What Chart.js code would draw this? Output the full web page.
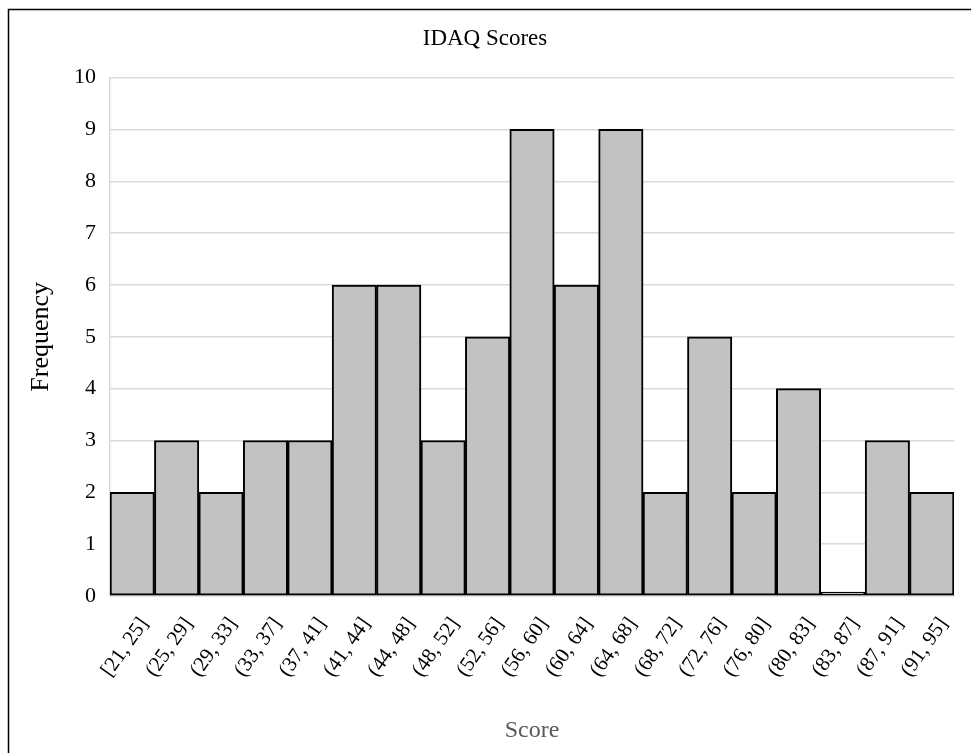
<!DOCTYPE html>
<html>
<head>
<meta charset="utf-8">
<title>IDAQ Scores</title>
<script src="https://cdn.jsdelivr.net/npm/chart.js@4/dist/chart.umd.min.js"></script>
<style>
    html, body { margin: 0; padding: 0; background: #fff; }
    #wrap { position: relative; width: 971px; height: 753px; }
</style>
</head>
<body>
<div id="wrap">
    <canvas id="histo" width="971" height="753"></canvas>
</div>
<script>
'use strict';

// score bins (x axis)
const bins = ['[21, 25]', '(25, 29]', '(29, 33]', '(33, 37]', '(37, 41]', '(41, 44]', '(44, 48]',
    '(48, 52]', '(52, 56]', '(56, 60]', '(60, 64]', '(64, 68]', '(68, 72]', '(72, 76]',
    '(76, 80]', '(80, 83]', '(83, 87]', '(87, 91]', '(91, 95]'];

// frequency per bin
const frequency = [2, 3, 2, 3, 3, 6, 6, 3, 5, 9, 6, 9, 2, 5, 2, 4, 0, 3, 2];

// y ticks 0..10
const yTicks = [0, 1, 2, 3, 4, 5, 6, 7, 8, 9, 10];

const serif = '"Liberation Serif", "Times New Roman", serif';

// frame lines round the picture (left + top only are visible in the original)
const framePlugin = {
    id: 'frame',
    beforeDraw(chart) {
        const c = chart.ctx;
        c.save();
        c.fillStyle = '#fff';
        c.fillRect(0, 0, chart.width, chart.height);
        c.strokeStyle = '#000';
        c.lineWidth = 1.5;
        c.beginPath();
        c.moveTo(8.5, chart.height);
        c.lineTo(8.5, 9.5);
        c.lineTo(chart.width, 9.5);
        c.stroke();
        c.restore();
    }
};

const ctx = document.getElementById('histo');

new Chart(ctx, {
    type: 'bar',
    data: {
        labels: bins,
        datasets: [{
            label: 'Frequency',
            data: frequency,
            backgroundColor: '#c2c2c2',
            borderColor: '#000',
            borderWidth: 2,
            borderSkipped: false,
            minBarLength: 4,
            barPercentage: 1,
            categoryPercentage: 1
        }]
    },
    options: {
        responsive: false,
        animation: false,
        layout: {
            padding: { left: 16, right: 17, top: 14, bottom: 0 }
        },
        plugins: {
            legend: { display: false },
            tooltip: { enabled: false },
            title: {
                display: true,
                text: 'IDAQ Scores',
                color: '#000',
                font: { family: serif, size: 23, weight: 'normal' },
                padding: { top: 11, bottom: 25 }
            }
        },
        scales: {
            x: {
                grid: { display: false, drawTicks: false },
                border: { display: true, color: '#d9d9d9', width: 1.5 },
                ticks: {
                    color: '#000',
                    font: { family: serif, size: 21 },
                    minRotation: 55,
                    maxRotation: 55,
                    padding: 17,
                    labelOffset: 12,
                    autoSkip: false
                },
                title: {
                    display: true,
                    text: 'Score',
                    color: '#595959',
                    font: { family: serif, size: 24 },
                    padding: { top: 4, bottom: 8 }
                },
                afterFit(s) { s.height = 157; }
            },
            y: {
                min: 0,
                max: 10,
                afterBuildTicks(s) { s.ticks = yTicks.map(v => ({ value: v })); },
                grid: { color: '#d9d9d9', lineWidth: 1.5, drawTicks: false },
                border: { display: true, color: '#d9d9d9', width: 1.5 },
                ticks: {
                    color: '#000',
                    font: { family: serif, size: 22 },
                    padding: 14
                },
                title: {
                    display: true,
                    text: 'Frequency',
                    color: '#000',
                    font: { family: serif, size: 26 },
                    padding: { top: 10, bottom: 4 }
                },
                afterFit(s) { s.width = 94; }
            }
        }
    },
    plugins: [framePlugin]
});
</script>
</body>
</html>
